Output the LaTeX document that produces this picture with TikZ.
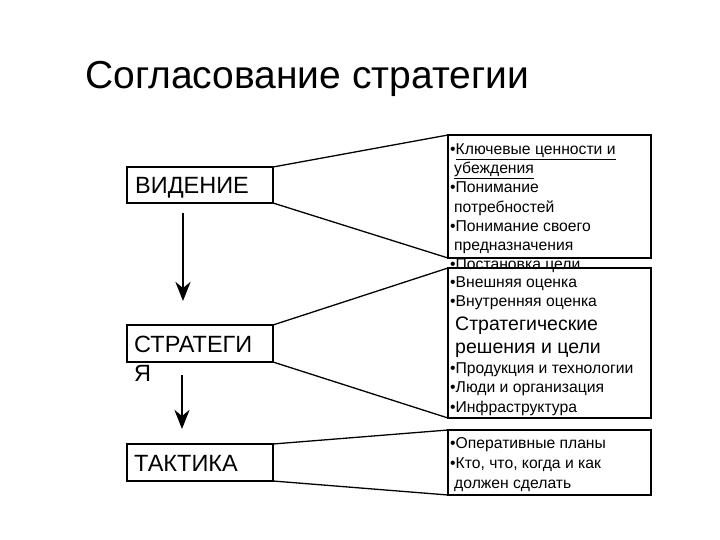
\documentclass[tikz,border=0pt]{standalone}
\usepackage{fontspec}
\setmainfont{Liberation Sans}
\usetikzlibrary{arrows.meta}
\begin{document}
\begin{tikzpicture}[x=1pt,y=-1pt,
  lvl/.style={draw,line width=1.3pt},
  conn/.style={line width=1.3pt},
  flow/.style={line width=2.8pt,-{Stealth[length=19pt,width=15pt,inset=6pt]}},
  item/.style={anchor=base west,inner sep=0pt,font=\fontsize{15.7}{17}\selectfont},
  big/.style={anchor=base west,inner sep=0pt,font=\fontsize{19.5}{21}\selectfont},
  lbl/.style={anchor=base west,inner sep=0pt,font=\fontsize{23.5}{25}\selectfont}]
\useasboundingbox (0,0) rectangle (720,540);
\node[anchor=base west,inner sep=0pt,font=\fontsize{39}{42}\selectfont] (title) at (85,89) {Согласование стратегии};
% left boxes
\draw[lvl] (127,167) rectangle (273,203);
\coordinate (v1) at (273,167); \coordinate (v2) at (273,203);
\node[lbl] (vis) at (135,194) {ВИДЕНИЕ};
\draw[lvl] (127,325) rectangle (273,362);
\coordinate (s1) at (273,325); \coordinate (s2) at (273,362);
\node[lbl] (str) at (134,352) {СТРАТЕГИ};
\node[lbl] (strb) at (134,381) {Я};
\draw[lvl] (127,444) rectangle (273,481);
\coordinate (t1) at (273,444); \coordinate (t2) at (273,481);
\node[lbl] (tac) at (134,471) {ТАКТИКА};
% arrows
\coordinate (a1) at (183,213); \coordinate (a1e) at (183,301);
\coordinate (a2) at (182,375); \coordinate (a2e) at (182,429);
\draw[flow] (a1) -- (a1e);
\draw[flow] (a2) -- (a2e);
% box 1 text
\node[item] (b1a) at (450,155) {•\underline{Ключевые ценности и}};
\node[item] (b1b) at (454,174) {\underline{убеждения}};
\node[item] (b1c) at (450,193) {•Понимание};
\node[item] (b1d) at (454,212) {потребностей};
\node[item] (b1e) at (450,231) {•Понимание своего};
\node[item] (b1f) at (454,250) {предназначения};
\node[item] (b1g) at (450,269) {•Постановка цели};
% box 2 text
\node[item] (b2a) at (450,287) {•Внешняя оценка};
\node[item] (b2b) at (450,306) {•Внутренняя оценка};
\node[big] (b2c) at (455,330) {Стратегические};
\node[big] (b2d) at (455,353) {решения и цели};
\node[item] (b2e) at (450,373) {•Продукция и технологии};
\node[item] (b2f) at (450,392) {•Люди и организация};
\node[item] (b2g) at (450,412) {•Инфраструктура};
% box 3 text
\node[item] (b3a) at (450,448) {•Оперативные планы};
\node[item] (b3b) at (450,468) {•Кто, что, когда и как};
\node[item] (b3c) at (454,488) {должен сделать};
% right boxes
\draw[lvl] (448,135) rectangle (651,258);
\coordinate (r1a) at (448,135); \coordinate (r1b) at (448,258);
\draw[lvl] (448,268) rectangle (651,418);
\coordinate (r2a) at (448,268); \coordinate (r2b) at (448,418);
\draw[lvl] (448,430) rectangle (651,495);
\coordinate (r3a) at (448,430); \coordinate (r3b) at (448,495);
% connectors
\draw[conn] (v1) -- (r1a);
\draw[conn] (v2) -- (r1b);
\draw[conn] (s1) -- (r2a);
\draw[conn] (s2) -- (r2b);
\draw[conn] (t1) -- (r3a);
\draw[conn] (t2) -- (r3b);
\end{tikzpicture}
\end{document}
